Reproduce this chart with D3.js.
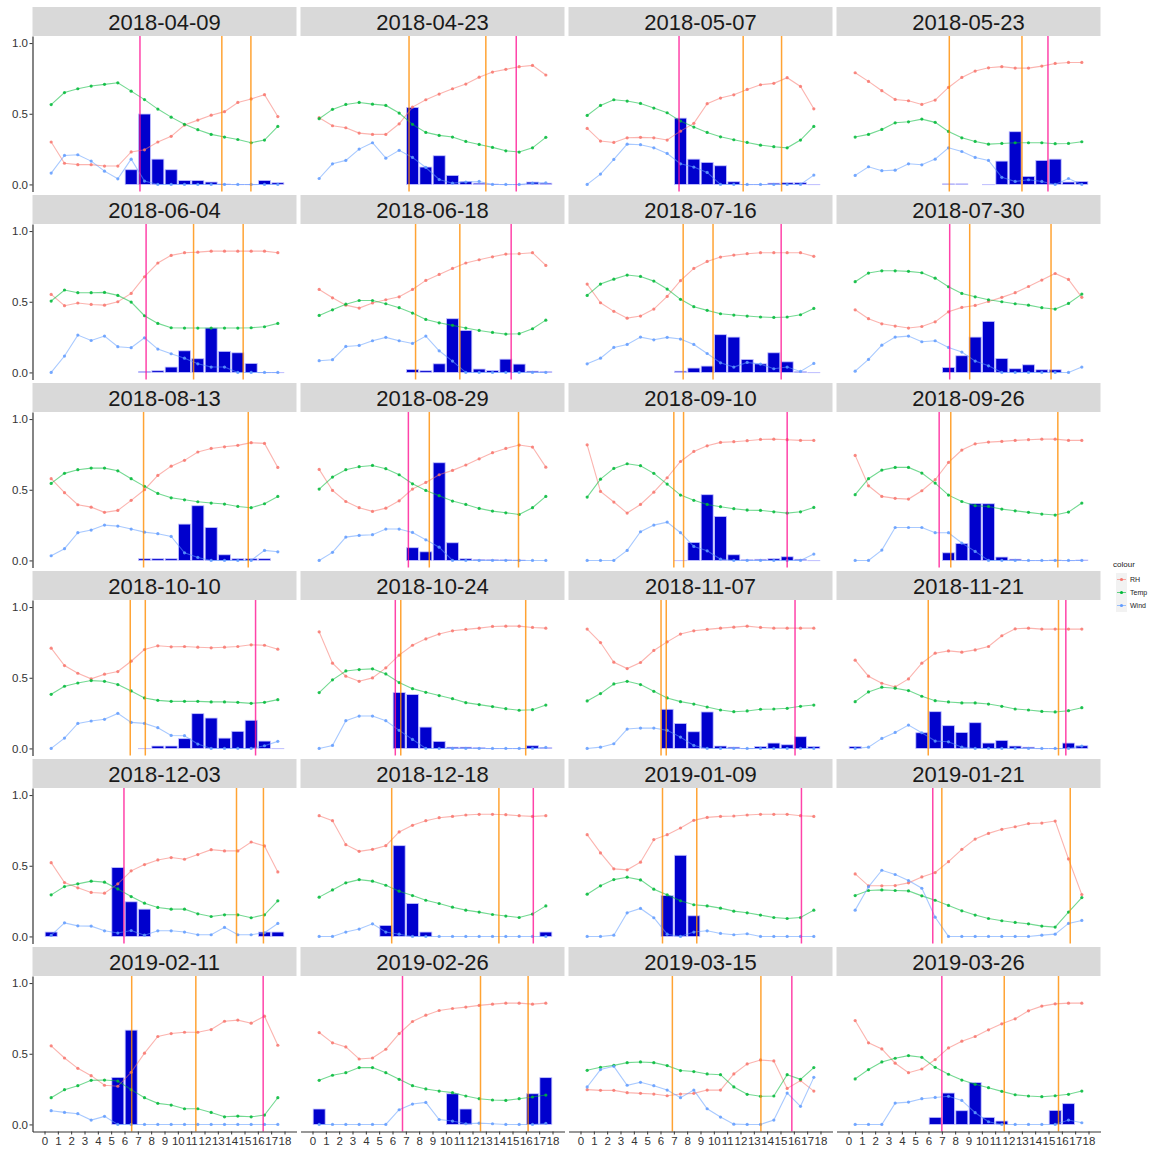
<!DOCTYPE html>
<html>
<head>
<meta charset="utf-8">
<script src="https://d3js.org/d3.v7.min.js"></script>
<style>
  body { margin: 0; background: #ffffff; }
  svg { font-family: "Liberation Sans", Arial, sans-serif; }
</style>
</head>
<body>
<script>

// datum for each facet
var dates = ["2018-04-09", "2018-04-23", "2018-05-07", "2018-05-23",
             "2018-06-04", "2018-06-18", "2018-07-16", "2018-07-30",
             "2018-08-13", "2018-08-29", "2018-09-10", "2018-09-26",
             "2018-10-10", "2018-10-24", "2018-11-07", "2018-11-21",
             "2018-12-03", "2018-12-18", "2019-01-09", "2019-01-21",
             "2019-02-11", "2019-02-26", "2019-03-15", "2019-03-26"];

// x tick labels and the hour midpoints where values sit
var hourTicks = [0, 1, 2, 3, 4, 5, 6, 7, 8, 9, 10, 11, 12, 13, 14, 15, 16, 17, 18];
var hours = [0.5, 1.5, 2.5, 3.5, 4.5, 5.5, 6.5, 7.5, 8.5, 9.5, 10.5, 11.5, 12.5, 13.5, 14.5, 15.5, 16.5, 17.5];
var yTicks = [0, 0.5, 1];

// relative humidity, one row per facet
var rh = [
  [0.30, 0.15, 0.14, 0.14, 0.13, 0.13, 0.23, 0.245, 0.30, 0.34, 0.42, 0.455, 0.49, 0.515, 0.58, 0.605, 0.635, 0.48],
  [0.472, 0.415, 0.401, 0.363, 0.354, 0.354, 0.429, 0.547, 0.599, 0.639, 0.677, 0.71, 0.759, 0.795, 0.814, 0.833, 0.842, 0.774],
  [0.396, 0.307, 0.297, 0.33, 0.333, 0.33, 0.314, 0.377, 0.432, 0.571, 0.611, 0.634, 0.672, 0.705, 0.715, 0.755, 0.693, 0.535],
  [0.79, 0.729, 0.663, 0.601, 0.592, 0.566, 0.597, 0.686, 0.757, 0.802, 0.825, 0.833, 0.823, 0.823, 0.837, 0.856, 0.863, 0.863],
  [0.552, 0.472, 0.491, 0.481, 0.476, 0.5, 0.559, 0.677, 0.774, 0.828, 0.847, 0.851, 0.858, 0.858, 0.858, 0.858, 0.858, 0.847],
  [0.587, 0.528, 0.476, 0.455, 0.491, 0.514, 0.535, 0.587, 0.651, 0.693, 0.736, 0.774, 0.797, 0.818, 0.837, 0.84, 0.847, 0.757],
  [0.625, 0.493, 0.432, 0.384, 0.399, 0.448, 0.538, 0.649, 0.736, 0.785, 0.816, 0.83, 0.84, 0.847, 0.847, 0.847, 0.847, 0.821],
  [0.443, 0.38, 0.344, 0.328, 0.314, 0.325, 0.358, 0.429, 0.46, 0.474, 0.502, 0.531, 0.564, 0.608, 0.653, 0.7, 0.658, 0.531],
  [0.578, 0.479, 0.394, 0.377, 0.34, 0.354, 0.425, 0.5, 0.601, 0.667, 0.708, 0.767, 0.792, 0.804, 0.814, 0.833, 0.828, 0.658],
  [0.644, 0.495, 0.417, 0.373, 0.347, 0.37, 0.422, 0.505, 0.552, 0.606, 0.637, 0.675, 0.719, 0.762, 0.792, 0.816, 0.802, 0.66],
  [0.818, 0.488, 0.413, 0.335, 0.396, 0.483, 0.585, 0.7, 0.771, 0.811, 0.835, 0.84, 0.847, 0.856, 0.858, 0.854, 0.849, 0.849],
  [0.743, 0.528, 0.453, 0.439, 0.434, 0.493, 0.571, 0.693, 0.781, 0.825, 0.837, 0.842, 0.849, 0.854, 0.858, 0.858, 0.849, 0.849],
  [0.709, 0.586, 0.532, 0.492, 0.525, 0.544, 0.617, 0.7, 0.726, 0.719, 0.721, 0.716, 0.712, 0.716, 0.721, 0.733, 0.73, 0.702],
  [0.825, 0.603, 0.511, 0.475, 0.499, 0.57, 0.66, 0.73, 0.775, 0.809, 0.832, 0.842, 0.851, 0.863, 0.865, 0.865, 0.856, 0.851],
  [0.844, 0.749, 0.61, 0.565, 0.608, 0.693, 0.754, 0.809, 0.832, 0.842, 0.851, 0.858, 0.865, 0.856, 0.851, 0.851, 0.851, 0.851],
  [0.624, 0.511, 0.461, 0.435, 0.492, 0.603, 0.674, 0.69, 0.681, 0.697, 0.721, 0.797, 0.846, 0.851, 0.844, 0.844, 0.844, 0.844],
  [0.522, 0.381, 0.344, 0.311, 0.306, 0.372, 0.464, 0.508, 0.541, 0.558, 0.546, 0.579, 0.614, 0.605, 0.605, 0.668, 0.64, 0.456],
  [0.854, 0.819, 0.649, 0.602, 0.616, 0.642, 0.739, 0.786, 0.819, 0.84, 0.849, 0.859, 0.864, 0.864, 0.861, 0.854, 0.849, 0.854],
  [0.72, 0.591, 0.478, 0.471, 0.525, 0.685, 0.72, 0.767, 0.821, 0.842, 0.849, 0.852, 0.859, 0.864, 0.864, 0.864, 0.854, 0.849],
  [0.442, 0.358, 0.358, 0.36, 0.379, 0.421, 0.452, 0.529, 0.616, 0.689, 0.729, 0.758, 0.776, 0.798, 0.802, 0.816, 0.548, 0.296],
  [0.556, 0.47, 0.397, 0.345, 0.277, 0.27, 0.369, 0.504, 0.622, 0.643, 0.652, 0.652, 0.671, 0.73, 0.738, 0.716, 0.766, 0.56],
  [0.65, 0.577, 0.548, 0.463, 0.47, 0.532, 0.643, 0.728, 0.773, 0.806, 0.82, 0.83, 0.842, 0.851, 0.858, 0.858, 0.851, 0.858],
  [0.246, 0.241, 0.241, 0.225, 0.22, 0.215, 0.203, 0.215, 0.22, 0.243, 0.243, 0.357, 0.428, 0.456, 0.449, 0.255, 0.31, 0.236],
  [0.735, 0.577, 0.534, 0.433, 0.366, 0.392, 0.459, 0.541, 0.589, 0.622, 0.669, 0.712, 0.747, 0.804, 0.837, 0.853, 0.858, 0.858]
];

// temperature
var temp = [
  [0.565, 0.65, 0.677, 0.696, 0.708, 0.719, 0.66, 0.60, 0.533, 0.476, 0.425, 0.387, 0.354, 0.335, 0.318, 0.295, 0.314, 0.41],
  [0.465, 0.531, 0.566, 0.58, 0.568, 0.559, 0.505, 0.425, 0.368, 0.347, 0.335, 0.304, 0.283, 0.262, 0.238, 0.229, 0.259, 0.333],
  [0.488, 0.559, 0.599, 0.59, 0.573, 0.54, 0.507, 0.448, 0.406, 0.368, 0.337, 0.316, 0.297, 0.278, 0.267, 0.259, 0.314, 0.41],
  [0.335, 0.354, 0.389, 0.436, 0.443, 0.462, 0.439, 0.375, 0.33, 0.304, 0.285, 0.29, 0.295, 0.295, 0.295, 0.288, 0.29, 0.302],
  [0.505, 0.583, 0.564, 0.564, 0.566, 0.545, 0.498, 0.401, 0.347, 0.316, 0.314, 0.314, 0.314, 0.314, 0.314, 0.316, 0.323, 0.347],
  [0.403, 0.443, 0.483, 0.509, 0.509, 0.486, 0.458, 0.42, 0.375, 0.351, 0.333, 0.314, 0.297, 0.283, 0.271, 0.274, 0.309, 0.37],
  [0.545, 0.625, 0.66, 0.689, 0.679, 0.646, 0.59, 0.517, 0.465, 0.439, 0.415, 0.406, 0.399, 0.392, 0.389, 0.392, 0.408, 0.453],
  [0.642, 0.703, 0.719, 0.719, 0.715, 0.705, 0.667, 0.606, 0.559, 0.535, 0.514, 0.5, 0.486, 0.476, 0.458, 0.448, 0.488, 0.554],
  [0.545, 0.616, 0.642, 0.653, 0.653, 0.634, 0.578, 0.524, 0.474, 0.443, 0.429, 0.415, 0.406, 0.399, 0.382, 0.373, 0.401, 0.453],
  [0.505, 0.59, 0.642, 0.663, 0.672, 0.649, 0.606, 0.542, 0.495, 0.458, 0.42, 0.396, 0.368, 0.349, 0.337, 0.325, 0.373, 0.453],
  [0.448, 0.575, 0.651, 0.684, 0.67, 0.616, 0.54, 0.462, 0.425, 0.396, 0.38, 0.366, 0.356, 0.354, 0.344, 0.335, 0.344, 0.375],
  [0.465, 0.578, 0.639, 0.658, 0.658, 0.618, 0.547, 0.462, 0.417, 0.387, 0.382, 0.363, 0.351, 0.34, 0.328, 0.321, 0.342, 0.406],
  [0.383, 0.44, 0.463, 0.48, 0.475, 0.452, 0.407, 0.357, 0.34, 0.333, 0.333, 0.333, 0.329, 0.329, 0.326, 0.319, 0.326, 0.345],
  [0.395, 0.485, 0.548, 0.558, 0.563, 0.527, 0.466, 0.423, 0.397, 0.374, 0.352, 0.324, 0.31, 0.296, 0.281, 0.27, 0.274, 0.307],
  [0.336, 0.388, 0.456, 0.475, 0.452, 0.404, 0.357, 0.331, 0.314, 0.293, 0.272, 0.26, 0.265, 0.277, 0.279, 0.284, 0.298, 0.307],
  [0.331, 0.4, 0.433, 0.426, 0.409, 0.369, 0.338, 0.329, 0.322, 0.322, 0.314, 0.298, 0.279, 0.272, 0.262, 0.258, 0.267, 0.288],
  [0.294, 0.353, 0.372, 0.391, 0.384, 0.336, 0.282, 0.235, 0.205, 0.193, 0.193, 0.16, 0.141, 0.153, 0.153, 0.132, 0.153, 0.252],
  [0.278, 0.329, 0.379, 0.402, 0.391, 0.362, 0.32, 0.289, 0.256, 0.233, 0.207, 0.186, 0.172, 0.155, 0.144, 0.134, 0.158, 0.216],
  [0.299, 0.358, 0.402, 0.419, 0.4, 0.334, 0.294, 0.252, 0.224, 0.216, 0.2, 0.179, 0.167, 0.151, 0.134, 0.127, 0.134, 0.186],
  [0.289, 0.325, 0.329, 0.325, 0.322, 0.287, 0.256, 0.219, 0.181, 0.151, 0.127, 0.111, 0.099, 0.089, 0.073, 0.066, 0.172, 0.275],
  [0.189, 0.246, 0.274, 0.312, 0.314, 0.307, 0.246, 0.189, 0.149, 0.137, 0.111, 0.111, 0.085, 0.054, 0.059, 0.054, 0.066, 0.189],
  [0.312, 0.348, 0.366, 0.402, 0.402, 0.366, 0.319, 0.274, 0.251, 0.236, 0.225, 0.201, 0.182, 0.173, 0.17, 0.182, 0.194, 0.208],
  [0.383, 0.404, 0.418, 0.437, 0.442, 0.437, 0.416, 0.381, 0.374, 0.357, 0.352, 0.265, 0.213, 0.199, 0.201, 0.352, 0.319, 0.402],
  [0.322, 0.388, 0.442, 0.468, 0.487, 0.475, 0.404, 0.355, 0.314, 0.284, 0.26, 0.234, 0.21, 0.201, 0.196, 0.203, 0.213, 0.236]
];

// wind
var wind = [
  [0.08, 0.205, 0.21, 0.165, 0.094, 0.04, 0.179, 0.024, 0, 0, 0, 0, 0, 0, 0, 0, 0, 0],
  [0.042, 0.146, 0.17, 0.25, 0.295, 0.186, 0.241, 0.191, 0.12, 0.035, 0.009, 0.017, 0.021, 0, 0, 0, 0.009, 0.012],
  [0, 0.073, 0.177, 0.285, 0.281, 0.259, 0.219, 0.146, 0.123, 0.085, 0, 0, 0, 0, 0, 0, 0, 0.066],
  [0.064, 0.125, 0.097, 0.101, 0.146, 0.139, 0.179, 0.259, 0.233, 0.191, 0.17, 0.05, 0.021, 0.033, 0.021, 0, 0.042, 0],
  [0, 0.116, 0.264, 0.226, 0.257, 0.182, 0.175, 0.245, 0.165, 0.132, 0.101, 0.061, 0.038, 0.038, 0, 0, 0, 0],
  [0.083, 0.09, 0.184, 0.191, 0.224, 0.248, 0.224, 0.205, 0.257, 0.153, 0.08, 0, 0, 0, 0, 0, 0, 0],
  [0.061, 0.101, 0.177, 0.198, 0.25, 0.231, 0.248, 0.236, 0.198, 0.134, 0.068, 0.038, 0.071, 0.059, 0.026, 0.038, 0.007, 0.064],
  [0.009, 0.092, 0.193, 0.25, 0.257, 0.217, 0.224, 0.177, 0.144, 0.08, 0.047, 0, 0, 0, 0, 0, 0, 0.038],
  [0.033, 0.083, 0.196, 0.215, 0.25, 0.243, 0.222, 0.2, 0.189, 0.17, 0.054, 0.021, 0, 0, 0, 0, 0.071, 0.061],
  [0, 0.057, 0.165, 0.177, 0.182, 0.222, 0.222, 0.198, 0.146, 0.094, 0, 0, 0, 0, 0, 0, 0, 0],
  [0, 0, 0, 0.071, 0.203, 0.25, 0.271, 0.196, 0.099, 0.068, 0.009, 0, 0, 0, 0, 0, 0, 0.045],
  [0, 0, 0.073, 0.233, 0.233, 0.233, 0.196, 0.196, 0.123, 0.064, 0, 0, 0, 0, 0, 0, 0, 0],
  [0, 0.073, 0.177, 0.194, 0.206, 0.248, 0.184, 0.177, 0.147, 0.092, 0.09, 0.031, 0, 0, 0, 0, 0.019, 0.05],
  [0, 0.021, 0.196, 0.229, 0.229, 0.196, 0.128, 0.064, 0, 0, 0, 0, 0, 0, 0, 0, 0, 0.007],
  [0, 0.009, 0.033, 0.137, 0.144, 0.144, 0.128, 0.08, 0.021, 0, 0, 0, 0, 0, 0, 0, 0, 0],
  [0, 0.009, 0.071, 0.113, 0.165, 0.111, 0.052, 0.047, 0.009, 0, 0, 0, 0, 0, 0, 0, 0, 0.017],
  [0.007, 0.096, 0.075, 0.073, 0.04, 0.024, 0.042, 0.009, 0.04, 0.04, 0.031, 0.012, 0.012, 0.064, 0.012, 0.012, 0.026, 0.092],
  [0, 0, 0.031, 0.052, 0.089, 0.031, 0.016, 0, 0, 0, 0, 0, 0, 0, 0, 0, 0, 0],
  [0, 0, 0.009, 0.167, 0.198, 0.132, 0.016, 0, 0.031, 0.04, 0.021, 0.012, 0.019, 0, 0, 0, 0, 0],
  [0.186, 0.351, 0.468, 0.438, 0.395, 0.341, 0.136, 0, 0, 0, 0, 0, 0, 0, 0.009, 0.016, 0.092, 0.113],
  [0.097, 0.085, 0.076, 0.031, 0.057, 0, 0, 0, 0, 0, 0, 0, 0, 0, 0, 0, 0, 0],
  [0, 0, 0, 0, 0, 0, 0.104, 0.144, 0.156, 0.035, 0.024, 0.005, 0.009, 0.005, 0, 0, 0, 0.007],
  [0.265, 0.388, 0.411, 0.277, 0.298, 0.274, 0.243, 0.189, 0.243, 0.111, 0.052, 0.002, 0, 0, 0.031, 0.222, 0.128, 0.333],
  [0, 0, 0, 0.151, 0.158, 0.182, 0.191, 0.199, 0.17, 0.083, 0.019, 0, 0, 0, 0, 0, 0.031, 0.012]
];

// hourly bars (null = no bar)
var rain = [
  [null, null, null, null, null, null, 0.104, 0.498, 0.179, 0.104, 0.028, 0.028, 0.017, 0.003, 0, 0, 0.028, 0.012],
  [null, null, null, null, null, null, null, 0.545, 0.123, 0.203, 0.064, 0.021, 0.009, 0.003, 0, 0, 0.017, 0.009],
  [null, null, null, null, null, null, null, 0.469, 0.179, 0.156, 0.132, 0.019, 0, 0, 0.009, 0.012, 0.012, 0],
  [null, null, null, null, null, null, null, 0.004, 0.004, null, 0, 0.165, 0.373, 0.057, 0.17, 0.179, 0.017, 0.021],
  [null, null, null, null, null, null, null, 0.007, 0.012, 0.038, 0.153, 0.097, 0.314, 0.149, 0.139, 0.064, 0, 0],
  [null, null, null, null, null, null, null, 0.021, 0.012, 0.061, 0.38, 0.297, 0.024, 0.014, 0.094, 0.059, 0.009, 0.005],
  [null, null, null, null, null, null, null, 0.009, 0.031, 0.045, 0.267, 0.25, 0.092, 0.061, 0.139, 0.075, 0.005, 0],
  [null, null, null, null, null, null, null, 0.035, 0.118, 0.25, 0.361, 0.099, 0.026, 0.054, 0.019, 0.019, null, null],
  [null, null, null, null, null, null, null, 0.012, 0.012, 0.012, 0.257, 0.387, 0.233, 0.04, 0.012, 0.012, 0.012, null],
  [null, null, null, null, null, null, null, 0.09, 0.061, 0.691, 0.125, 0.012, 0.007, 0.005, 0.004, 0.003, null, null],
  [null, null, null, null, null, null, null, 0, 0.127, 0.465, 0.311, 0.04, 0.005, 0.008, 0.012, 0.026, 0.008, 0],
  [null, null, null, null, null, null, null, 0.054, 0.12, 0.403, 0.401, 0.024, 0.009, 0, 0, 0.003, 0, 0.003],
  [null, null, null, null, null, null, null, 0, 0.017, 0.017, 0.069, 0.246, 0.215, 0.073, 0.121, 0.199, 0.052, 0],
  [null, null, null, null, null, null, 0.395, 0.381, 0.151, 0.05, 0.009, 0.009, 0.005, 0, 0, 0, 0.019, 0.005],
  [null, null, null, null, null, null, 0.277, 0.177, 0.118, 0.258, 0.017, 0.009, 0, 0.014, 0.038, 0.026, 0.083, 0.014],
  [0.014, null, null, null, null, 0.111, 0.26, 0.161, 0.113, 0.182, 0.038, 0.057, 0.017, 0.009, 0, 0, 0.038, 0.019],
  [0.031, null, null, null, null, 0.487, 0.245, 0.193, null, null, null, null, null, null, null, null, 0.031, 0.031],
  [null, null, null, null, null, 0.078, 0.642, 0.233, 0.031, null, null, null, null, null, null, null, null, 0.031],
  [null, null, null, null, null, null, 0.289, 0.574, 0.146, null, null, null, null, null, null, null, null, null],
  [null, null, null, null, null, null, null, null, null, null, null, null, null, null, null, null, null, null],
  [null, null, null, null, null, 0.333, 0.667, null, null, null, null, null, null, null, null, null, null, null],
  [0.109, null, null, null, null, null, null, null, null, null, 0.217, 0.109, null, null, null, null, 0.217, 0.331],
  [null, null, null, null, null, null, null, null, null, null, null, null, null, null, null, null, null, null],
  [null, null, null, null, null, null, 0.05, 0.222, 0.097, 0.296, 0.05, 0.024, null, null, null, 0.099, 0.147, null]
];

// vertical markers (hours)
var orangeLines = [[13.3, 15.48], [7.24, 13.0], [12.2, 15.08], [7.56, 13.01],
                   [11.18, 14.9], [7.73, 11.05], [7.7, 9.94], [9.09, 15.19],
                   [7.43, 15.28], [8.76, 15.45], [7.0, 7.73], [7.67, 15.7],
                   [6.43, 7.56], [6.62, 15.99], [6.04, 6.43], [5.98, 15.75],
                   [14.4, 16.42], [5.94, 13.98], [6.15, 8.72], [7.0, 16.63],
                   [6.54, 11.35], [12.6, 16.17], [6.89, 13.53], [11.68, 15.75]];
var pinkLines = [7.16, 15.28, 7.39, 14.96, 7.62, 14.9, 15.05, 7.59,
                 null, 7.19, 15.5, 6.8, 15.83, 6.21, 16.09, 16.3,
                 5.96, 16.56, 16.57, 6.32, 16.4, 6.75, 15.85, 7.0];

var seriesNames = ["RH", "Temp", "Wind"];
var seriesColors = ["#F8766D", "#00BA38", "#619CFF"];
var seriesData = [rh, temp, wind];

// layout
var colX0 = 32.5, colStep = 268, panelW = 264;
var rowY0 = 7, rowStep = 188, stripH = 29, panelH = 155.5;

var svg = d3.select("body").append("svg")
   .attr("width", 1157)
   .attr("height", 1150);

var x = d3.scaleLinear().domain([-0.9, 18.9]).range([0, panelW]);
var y = d3.scaleLinear().domain([-0.05, 1.05]).range([panelH, 0]);

var line = d3.line()
   .x(function(d) { return x(d.h); })
   .y(function(d) { return y(d.v); });

dates.forEach(function(date, p) {
  var col = p % 4, row = Math.floor(p / 4);
  var g = svg.append("g")
     .attr("transform", "translate(" + (colX0 + col * colStep) + "," + (rowY0 + row * rowStep) + ")");

  // strip
  g.append("rect")
     .attr("width", panelW)
     .attr("height", stripH)
     .attr("fill", "#D9D9D9");
  g.append("text")
     .attr("x", panelW / 2)
     .attr("y", 22.5)
     .attr("text-anchor", "middle")
     .style("font-size", "22px")
     .style("fill", "#1A1A1A")
     .text(date);

  var plot = g.append("g").attr("transform", "translate(0," + stripH + ")");

  // bars
  var bars = rain[p]
     .map(function(v, i) { return { h: hours[i], v: v }; })
     .filter(function(d) { return d.v !== null; });
  plot.selectAll("rect.bar")
     .data(bars)
     .enter()
     .append("rect")
     .attr("class", "bar")
     .attr("x", function(d) { return x(d.h - 0.45); })
     .attr("width", x(0.9) - x(0))
     .attr("y", function(d) { return y(d.v); })
     .attr("height", function(d) { return Math.max(y(0) - y(d.v), 0.3); })
     .style("fill", "#0000CD")
     .style("stroke", "#C4C4FF")
     .style("stroke-width", 0.8);

  // lines and points
  seriesData.forEach(function(s, k) {
    var pts = s[p].map(function(v, i) { return { h: hours[i], v: v }; });
    plot.append("path")
       .datum(pts)
       .attr("d", line)
       .style("fill", "none")
       .style("stroke", seriesColors[k])
       .style("stroke-width", 1.1)
       .style("stroke-opacity", 0.55);
    plot.selectAll("circle.s" + k)
       .data(pts)
       .enter()
       .append("circle")
       .attr("class", "s" + k)
       .attr("cx", function(d) { return x(d.h); })
       .attr("cy", function(d) { return y(d.v); })
       .attr("r", 1.6)
       .style("fill", seriesColors[k])
       .style("opacity", 0.85);
  });

  // vertical markers
  var marks = orangeLines[p].map(function(v) { return { v: v, c: "#FF8C00" }; });
  if (pinkLines[p] !== null) marks.push({ v: pinkLines[p], c: "#FF1493" });
  plot.selectAll("line.vm")
     .data(marks)
     .enter()
     .append("line")
     .attr("class", "vm")
     .attr("x1", function(d) { return x(d.v); })
     .attr("x2", function(d) { return x(d.v); })
     .attr("y1", 0)
     .attr("y2", panelH)
     .style("stroke", function(d) { return d.c; })
     .style("stroke-width", 1.5)
     .style("stroke-opacity", 0.8);

  // axes
  if (col === 0) {
    var ay = plot.append("g")
       .call(d3.axisLeft(y).tickValues(yTicks).tickFormat(d3.format(".1f")).tickSize(3).tickSizeOuter(0));
    ay.select(".domain").style("stroke", "#333").style("stroke-width", 1.2);
    ay.selectAll(".tick line").style("stroke", "#333");
    ay.selectAll(".tick text").style("font-size", "11.5px").style("fill", "#333").attr("x", -4.5);
  }
  if (row === 5) {
    var ax = plot.append("g")
       .attr("transform", "translate(0," + panelH + ")")
       .call(d3.axisBottom(x).tickValues(hourTicks).tickSize(3).tickSizeOuter(0));
    ax.select(".domain").style("stroke", "#333").style("stroke-width", 1.2);
    ax.selectAll(".tick line").style("stroke", "#333");
    ax.selectAll(".tick text").style("font-size", "11.5px").style("fill", "#333").attr("y", 5);
  }
});

// legend
var legend = svg.append("g").attr("transform", "translate(1113,560)");
legend.append("text")
   .attr("x", 0)
   .attr("y", 7)
   .style("font-size", "8px")
   .style("fill", "#1A1A1A")
   .text("colour");
seriesNames.forEach(function(name, k) {
  var ky = 13 + k * 13;
  legend.append("rect")
     .attr("x", 3).attr("y", ky)
     .attr("width", 11).attr("height", 13)
     .style("fill", "#F2F2F2");
  legend.append("line")
     .attr("x1", 4).attr("x2", 13)
     .attr("y1", ky + 6.5).attr("y2", ky + 6.5)
     .style("stroke", seriesColors[k])
     .style("stroke-opacity", 0.6)
     .style("stroke-width", 1);
  legend.append("circle")
     .attr("cx", 8.5).attr("cy", ky + 6.5).attr("r", 1.6)
     .style("fill", seriesColors[k]);
  legend.append("text")
     .attr("x", 17)
     .attr("y", ky + 9)
     .style("font-size", "7px")
     .style("fill", "#1A1A1A")
     .text(name);
});

</script>
</body>
</html>
